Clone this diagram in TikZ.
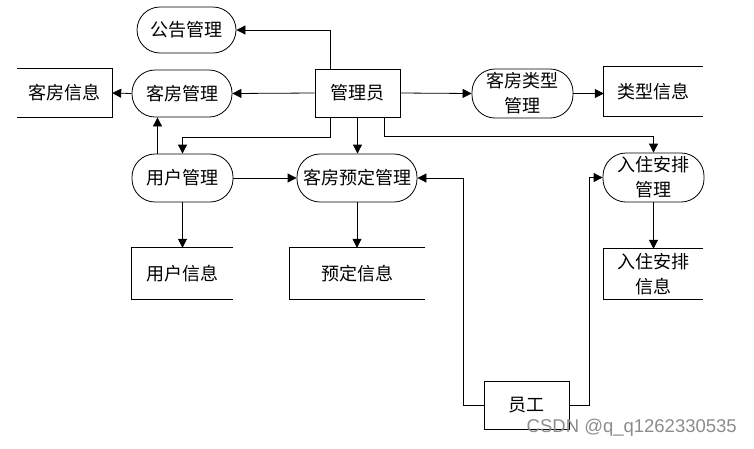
\documentclass[tikz,border=0pt]{standalone}
\usepackage{fontspec}
\newfontfamily\cjk{Noto Sans CJK SC}
\newfontfamily\wmfont{Liberation Sans}
\usetikzlibrary{arrows.meta,calc}
\begin{document}
\begin{tikzpicture}[x=1pt,y=-1pt,
  every node/.style={font=\cjk\fontsize{18}{25}\selectfont, inner sep=0pt, align=center},
  stadium/.style={draw, line width=0.8pt, rectangle, rounded corners=23pt},
  boxnode/.style={draw, line width=0.8pt, rectangle},
  store/.style={rectangle},
  storeline/.style={line width=0.8pt},
  arr/.style={line width=0.8pt, -{Triangle[length=9pt,width=9pt]}},
  ln/.style={line width=0.8pt}]
\useasboundingbox (0,0) rectangle (754,448);
% nodes
\node[stadium, minimum width=99pt, minimum height=46pt] (ggl) at (186.5,30) {公告管理};
\node[stadium, minimum width=100pt, minimum height=47pt] (kfgl) at (182,93.5) {客房管理};
\node[store, minimum width=95pt, minimum height=48pt] (kfxx) at (64.5,93) {客房信息};
\node[boxnode, minimum width=85pt, minimum height=48pt] (gly) at (357.5,93) {管理员};
\node[stadium, minimum width=101pt, minimum height=49pt] (lxgl) at (522.5,93.5) {客房类型\\管理};
\node[store, minimum width=99pt, minimum height=49pt] (lxxx) at (653.5,91.5) {类型信息};
\node[stadium, minimum width=101pt, minimum height=49pt] (rzgl) at (653.5,177.5) {入住安排\\管理};
\node[stadium, minimum width=101pt, minimum height=48pt] (yhgl) at (182.5,178) {用户管理};
\node[stadium, minimum width=120pt, minimum height=48pt] (ydgl) at (357,178) {客房预定管理};
\node[store, minimum width=101pt, minimum height=51pt] (yhxx) at (182.5,273.5) {用户信息};
\node[store, minimum width=135pt, minimum height=51pt] (ydxx) at (357.5,273.5) {预定信息};
\node[store, minimum width=99pt, minimum height=50pt] (rzxx) at (653.5,274) {入住安排\\信息};
\node[boxnode, minimum width=85pt, minimum height=48pt] (yg) at (526.5,405) {员工};
% data store outlines
\draw[storeline] (kfxx.north west) -- (kfxx.north east) -- (kfxx.south east) -- (kfxx.south west);
\foreach \s in {lxxx,yhxx,ydxx,rzxx}{
  \draw[storeline] (\s.north east) -- (\s.north west) -- (\s.south west) -- (\s.south east);
}
% connectors
\draw[arr] ([xshift=-27.5pt]gly.north) |- (ggl.east);
\draw[arr] (gly.west) -- (kfgl.east);
\draw[arr] (kfgl.west) -- (kfxx.east);
\draw[arr] (gly.east) -- (lxgl.west);
\draw[arr] (lxgl.east) -- (lxgl.east -| lxxx.west);
\draw[arr] ([xshift=-27.5pt]gly.south) -- ++(0,20) -| (yhgl.north);
\draw[arr] (gly.south) -- (gly.south |- ydgl.north);
\draw[arr] ([xshift=26.5pt]gly.south) -- ++(0,19) -| (rzgl.north);
\draw[arr] ([xshift=-25pt]yhgl.north) -- ([xshift=-25pt]yhgl.north |- kfgl.south);
\draw[arr] (yhgl.east) -- (ydgl.west);
\draw[arr] (yhgl.south) -- (yhxx.north);
\draw[arr] (ydgl.south) -- (ydgl.south |- ydxx.north);
\draw[arr] (rzgl.south) -- (rzxx.north);
\draw[arr] (yg.west) -- ++(-20,0) |- (ydgl.east);
\draw[arr] (yg.east) -- ++(20,0) |- (rzgl.west);
% watermark
\node[font=\wmfont\fontsize{18.5}{20}\selectfont, text=black!45, anchor=east] (wm) at (737,428) {CSDN @q\_q1262330535};
\end{tikzpicture}
\end{document}
